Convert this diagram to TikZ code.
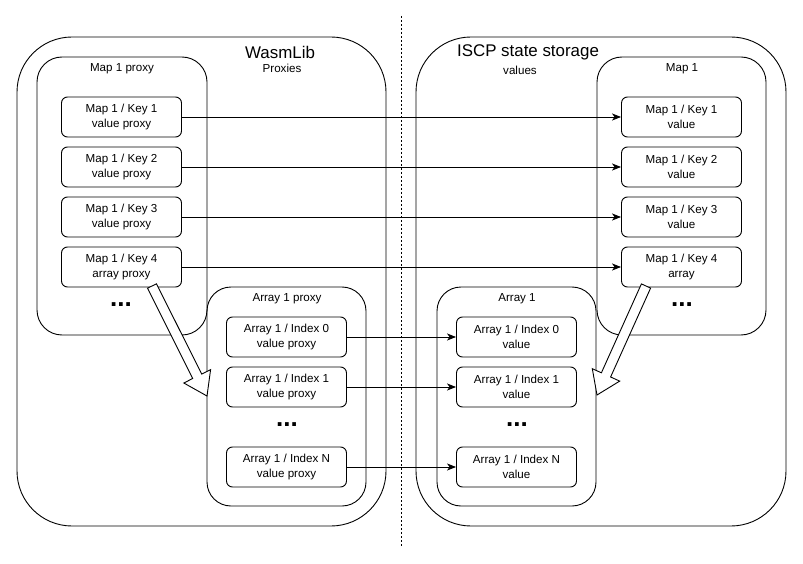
\documentclass[tikz,border=0pt]{standalone}
\usepackage{fontspec}
\setmainfont{Liberation Sans}
\usetikzlibrary{arrows.meta}

\begin{document}
\begin{tikzpicture}[x=1pt,y=-1pt,line width=0.9pt]
    \tikzstyle{every node}+=[inner sep=0pt]
    \tikzstyle{cell}=[draw, rounded corners=6pt, minimum width=120pt, minimum height=40pt, align=center, font=\fontsize{11.6}{14.5}\selectfont]
    \tikzstyle{caption}=[font=\fontsize{11.6}{14}\selectfont]
    \tikzstyle{title}=[font=\fontsize{16.9}{19}\selectfont]
    \tikzstyle{more}=[font=\bfseries\fontsize{26}{26}\selectfont]
    \tikzstyle{link}=[-{Stealth[length=9pt,width=7pt,inset=2.5pt]}]
    \useasboundingbox (0,0) rectangle (803,564);
    \draw [black, rounded corners=55pt] (17,37) rectangle (386,526);
    \draw [black, rounded corners=55pt] (416,37) rectangle (786,526);
    \draw [black, rounded corners=25pt] (37,57) rectangle (207,335);
    \draw [black, rounded corners=24pt] (207,287) rectangle (366,506);
    \draw [black, rounded corners=25pt] (597,57) rectangle (766,335);
    \draw [black, rounded corners=24pt] (437,287) rectangle (596,506);
    \draw [black, line width=0.8pt, dash pattern=on 2pt off 2pt] (401,16) -- (401,547);
    \node [title] (wasmlib) at (280,52) {WasmLib};
    \node [caption] (proxies) at (282,68) {Proxies};
    \node [title] (iscp) at (528,52) {ISCP state storage};
    \node [caption] (values) at (520,70) {values};
    \node [caption] (mapproxy) at (122,69) {Map 1 proxy};
    \node [caption] (arrproxy) at (287,299) {Array 1 proxy};
    \node [caption] (map) at (682,69) {Map 1};
    \node [caption] (arr) at (517,299) {Array 1};
    \node [cell] (k1) at (121.5,117) {Map 1 / Key 1\\value proxy};
    \node [cell] (k2) at (121.5,167) {Map 1 / Key 2\\value proxy};
    \node [cell] (k3) at (121.5,217) {Map 1 / Key 3\\value proxy};
    \node [cell] (k4) at (121.5,267) {Map 1 / Key 4\\array proxy};
    \node [more] (kmore) at (121,305) {...};
    \node [cell] (v1) at (681.5,117) {Map 1 / Key 1\\value};
    \node [cell] (v2) at (681.5,167) {Map 1 / Key 2\\value};
    \node [cell] (v3) at (681.5,217) {Map 1 / Key 3\\value};
    \node [cell] (v4) at (681.5,267) {Map 1 / Key 4\\array};
    \node [more] (vmore) at (682,305) {...};
    \node [cell] (i0) at (286.5,337) {Array 1 / Index 0\\value proxy};
    \node [cell] (i1) at (286.5,387) {Array 1 / Index 1\\value proxy};
    \node [more] (imore) at (287,425) {...};
    \node [cell] (iN) at (286.5,467) {Array 1 / Index N\\value proxy};
    \node [cell] (e0) at (516.5,337) {Array 1 / Index 0\\value};
    \node [cell] (e1) at (516.5,387) {Array 1 / Index 1\\value};
    \node [more] (emore) at (517,425) {...};
    \node [cell] (eN) at (516.5,467) {Array 1 / Index N\\value};
    \draw [link] (k1) -- (v1);
    \draw [link] (k2) -- (v2);
    \draw [link] (k3) -- (v3);
    \draw [link] (k4) -- (v4);
    \draw [link] (i0) -- (e0);
    \draw [link] (i1) -- (e1);
    \draw [link] (iN) -- (eN);
    % hollow arrows from key 4 down to the arrays
    \draw [black, fill=white] (156.5,283.8) -- (201.7,374.1) -- (210.6,369.6) -- (207,396) -- (183.8,383.0) -- (192.7,378.5) -- (147.5,288.2) -- cycle;
    \draw [black, fill=white] (650.6,288.1) -- (610.6,377.0) -- (619.7,381.1) -- (597,395) -- (592.3,368.7) -- (601.4,372.8) -- (641.4,283.9) -- cycle;
\end{tikzpicture}
\end{document}
